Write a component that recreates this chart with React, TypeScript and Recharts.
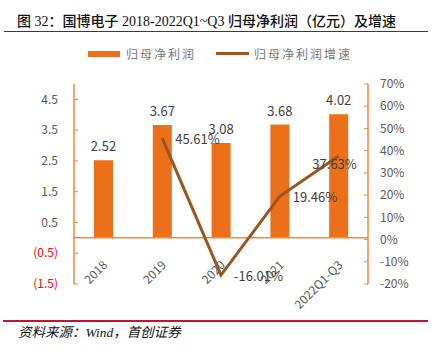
import React from 'react';
import {
  ComposedChart, Bar, Line, XAxis, YAxis, LabelList, ReferenceLine
} from 'recharts';

const years = ['2018', '2019', '2020', '2021', '2022Q1-Q3'];
const profit = [2.52, 3.67, 3.08, 3.68, 4.02];
const growth = [null, 45.61, -16.01, 19.46, 37.63];
const leftTicks = [-1.5, -0.5, 0.5, 1.5, 2.5, 3.5, 4.5];
const rightTicks = [-20, -10, 0, 10, 20, 30, 40, 50, 60, 70];

const data = years.map((year, i) => ({ year, profit: profit[i], growth: growth[i] }));

const BAR = '#EC7019';
const LINE = '#9C5420';
const AXIS = '#F08A3C';
const TXT = '#595959';
const FONT = "'Noto Sans CJK SC', 'Noto Sans', sans-serif";

const LeftTick = (props: any) => {
  const { x, y, payload } = props;
  const v = payload.value as number;
  const label = v < 0 ? `(${Math.abs(v).toFixed(1)})` : v.toFixed(1);
  return (
    <text x={x} y={y} dy="0.35em" textAnchor="end" fontSize={12} fontFamily={FONT}
      fill={v < 0 ? '#FF0000' : TXT}>{label}</text>
  );
};

const RightTick = (props: any) => {
  const { x, y, payload } = props;
  return (
    <text x={x} y={y} dy="0.35em" textAnchor="start" fontSize={12} fontFamily={FONT} fill={TXT}>
      {`${payload.value}%`}
    </text>
  );
};

const CatTick = (props: any) => {
  const { x, y, payload } = props;
  const ty = y - 30;
  return (
    <text x={x + 1} y={ty} dominantBaseline="central" textAnchor="end" fontSize={12}
      fontFamily={FONT} fill={TXT} transform={`rotate(-45, ${x + 1}, ${ty})`}>
      {payload.value}
    </text>
  );
};

const GrowthLabel = (props: any) => {
  const { x, y, value, index } = props;
  if (value == null) return null;
  const last = index === years.length - 1;
  return (
    <text x={last ? x - 4 : x + 13} y={last ? y + 9 : y + 1} dy="0.35em"
      textAnchor={last ? 'middle' : 'start'} fontSize={13} fontFamily={FONT} fill="#404040">
      {`${value.toFixed(2)}%`}
    </text>
  );
};

export default function App() {
  return (
    <div style={{ position: 'absolute', left: 0, top: 0, width: 432, height: 354, background: '#fff' }}>
      <div style={{
        position: 'absolute', left: 17, top: 12, fontSize: 14, lineHeight: '20px', color: '#111',
        fontFamily: "'Liberation Serif', 'Noto Sans CJK SC', serif", whiteSpace: 'nowrap', fontWeight: 500
      }}>
        图 32：国博电子 2018-2022Q1~Q3 归母净利润（亿元）及增速
      </div>
      <div style={{ position: 'absolute', left: 4, top: 31, width: 424, height: 1, background: '#C00000' }} />

      <div style={{
        position: 'absolute', left: 88, top: 45, display: 'flex', alignItems: 'center',
        fontSize: 12, color: '#777', fontFamily: FONT, letterSpacing: 2, whiteSpace: 'nowrap'
      }}>
        <span style={{ display: 'inline-block', width: 32, height: 6, background: BAR, marginRight: 6 }} />
        <span>归母净利润</span>
        <span style={{ display: 'inline-block', width: 33, height: 3, background: LINE, marginLeft: 20, marginRight: 5 }} />
        <span>归母净利润增速</span>
      </div>

      <div style={{ position: 'absolute', left: 0, top: 0 }}>
        <ComposedChart width={432} height={354} data={data}
          margin={{ top: 84, right: 0, bottom: 10, left: 14 }}>
          <XAxis dataKey="year" xAxisId={0} height={60} axisLine={false} tickLine={false}
            interval={0} tick={<CatTick />} />
          <YAxis yAxisId="left" width={60} domain={[-1.5, 5]} ticks={leftTicks} allowDataOverflow
            interval={0} axisLine={{ stroke: AXIS, strokeWidth: 1.5 }} tickLine={{ stroke: AXIS }}
            tickSize={-4} tickMargin={20} tick={<LeftTick />} />
          <YAxis yAxisId="right" orientation="right" width={64} domain={[-20, 70]} ticks={rightTicks}
            interval={0} allowDataOverflow axisLine={{ stroke: AXIS, strokeWidth: 1.5 }} tickLine={{ stroke: AXIS }}
            tickSize={-4} tickMargin={16} tick={<RightTick />} />
          <ReferenceLine yAxisId="left" y={0} stroke={AXIS} strokeWidth={1.5} />
          <Bar yAxisId="left" dataKey="profit" fill={BAR} barSize={19} isAnimationActive={false}>
            <LabelList dataKey="profit" position="top" offset={9} fontSize={13} fontFamily={FONT}
              fill="#404040" formatter={(v: any) => Number(v).toFixed(2)} />
          </Bar>
          <Line yAxisId="right" dataKey="growth" stroke={LINE} strokeWidth={3} dot={false}
            connectNulls={false} isAnimationActive={false}>
            <LabelList dataKey="growth" content={<GrowthLabel />} />
          </Line>
        </ComposedChart>
      </div>

      <div style={{ position: 'absolute', left: 3, top: 320, width: 425, height: 1.5, background: '#C8102E' }} />
      <div style={{
        position: 'absolute', left: 18, top: 324, fontSize: 13.5, lineHeight: '18px', color: '#111',
        fontFamily: "'Liberation Serif', 'Noto Sans CJK SC', serif", fontStyle: 'italic', whiteSpace: 'nowrap'
      }}>
        资料来源：Wind，首创证券
      </div>
    </div>
  );
}
